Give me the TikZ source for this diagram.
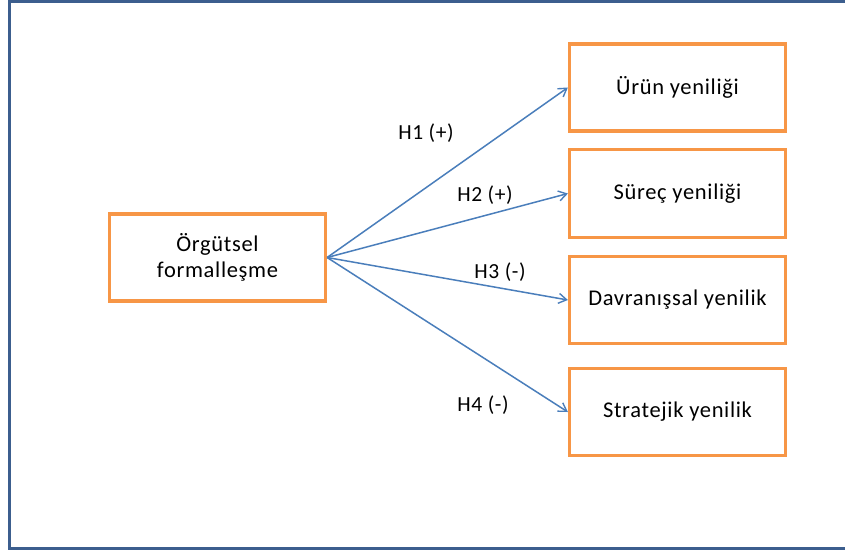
\documentclass[tikz,border=0pt]{standalone}
\usepackage{fontspec}
\setmainfont{Carlito}[LetterSpace=3]
\usetikzlibrary{arrows.meta}
\definecolor{framecol}{HTML}{3C5E8E}
\definecolor{boxcol}{HTML}{F79646}
\definecolor{arrowcol}{HTML}{4A7EBB}
\tikzset{
  conceptbox/.style={draw=boxcol, line width=3.2pt, fill=white, minimum width=216pt,
    minimum height=87pt, inner sep=0pt, align=center, font=\fontsize{22.5}{25.5}\selectfont},
  link/.style={draw=arrowcol, line width=1.5pt, -{Straight Barb[length=8pt,width=10pt,line width=1.4pt]}},
  hyplabel/.style={font=\fontsize{21.5}{24}\selectfont, inner sep=0pt}
}
\begin{document}
\begin{tikzpicture}[x=1pt,y=-1pt]
  \useasboundingbox (0,0) rectangle (845,551);
  % outer frame (right edge runs past the page)
  \draw[framecol, line width=3pt] (9.5,1.5) rectangle (852,548.5);

  % independent variable
  \node[conceptbox] (src) at (217.5,257.5) {Örgütsel\\formalleşme};

  % dependent variables
  \node[conceptbox] (urun) at (677.5,87.5) {Ürün yeniliği};
  \node[conceptbox, minimum height=88pt] (surec) at (677.5,193.5) {Süreç yeniliği};
  \node[conceptbox] (davr) at (677.5,300) {Davranışsal yenilik};
  \node[conceptbox] (strat) at (677.5,412) {Stratejik yenilik};

  % hypothesised paths
  \draw[link] (src.east) -- (urun.west);
  \draw[link] (src.east) -- (surec.west);
  \draw[link] (src.east) -- (davr.west);
  \draw[link] (src.east) -- (strat.west);

  \node[hyplabel] (h1) at (426,133) {H1 (+)};
  \node[hyplabel] (h2) at (485,195) {H2 (+)};
  \node[hyplabel] (h3) at (500,272) {H3 (-)};
  \node[hyplabel] (h4) at (483,405) {H4 (-)};
\end{tikzpicture}
\end{document}
